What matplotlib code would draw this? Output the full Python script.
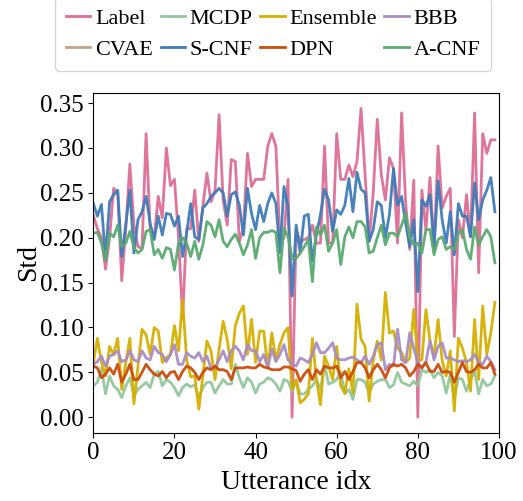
import matplotlib
matplotlib.use("Agg")
import matplotlib.pyplot as plt
from matplotlib.lines import Line2D
import numpy as np

plt.rcParams['font.family'] = ['Liberation Serif', 'DejaVu Serif']

idx = list(range(100))

label_std = [0.225, 0.21, 0.20, 0.165, 0.20, 0.255, 0.25, 0.152, 0.21, 0.282,
             0.215, 0.19, 0.188, 0.316, 0.21, 0.20, 0.246, 0.222, 0.30, 0.258,
             0.265, 0.20, 0.11, 0.21, 0.21, 0.253, 0.196, 0.235, 0.272, 0.240,
             0.253, 0.337, 0.242, 0.214, 0.287, 0.285, 0.196, 0.21, 0.294, 0.257,
             0.265, 0.265, 0.265, 0.302, 0.316, 0.302, 0.196, 0.20, 0.265, 0.0,
             0.209, 0.196, 0.198, 0.20, 0.214, 0.194, 0.194, 0.302, 0.194, 0.194,
             0.316, 0.265, 0.265, 0.281, 0.268, 0.285, 0.344, 0.27, 0.196, 0.25,
             0.332, 0.27, 0.242, 0.289, 0.277, 0.194, 0.339, 0.239, 0.187, 0.264,
             0.0, 0.253, 0.209, 0.267, 0.187, 0.302, 0.233, 0.246, 0.255, 0.09,
             0.22, 0.20, 0.248, 0.201, 0.339, 0.161, 0.316, 0.294, 0.309, 0.309]

mcdp_std = [0.035, 0.039, 0.055, 0.026, 0.046, 0.035, 0.031, 0.022, 0.035, 0.044,
            0.024, 0.031, 0.035, 0.039, 0.033, 0.048, 0.051, 0.035, 0.042, 0.039,
            0.033, 0.024, 0.033, 0.037, 0.034, 0.036, 0.022, 0.033, 0.039, 0.039,
            0.027, 0.035, 0.042, 0.037, 0.037, 0.059, 0.044, 0.033, 0.044, 0.039,
            0.027, 0.037, 0.039, 0.044, 0.042, 0.037, 0.029, 0.042, 0.040, 0.029,
            0.040, 0.026, 0.026, 0.031, 0.035, 0.042, 0.031, 0.059, 0.037, 0.039,
            0.042, 0.051, 0.026, 0.031, 0.020, 0.042, 0.042, 0.039, 0.027, 0.037,
            0.040, 0.042, 0.042, 0.033, 0.036, 0.050, 0.039, 0.037, 0.035, 0.040,
            0.035, 0.053, 0.050, 0.053, 0.044, 0.050, 0.046, 0.027, 0.048, 0.020,
            0.044, 0.042, 0.029, 0.042, 0.051, 0.026, 0.042, 0.035, 0.037, 0.046]

ensemble_std = [0.061, 0.088, 0.061, 0.046, 0.079, 0.070, 0.088, 0.031, 0.061, 0.088,
                0.015, 0.057, 0.098, 0.092, 0.070, 0.100, 0.096, 0.061, 0.066, 0.070,
                0.102, 0.074, 0.131, 0.064, 0.045, 0.046, 0.009, 0.046, 0.085, 0.074,
                0.042, 0.076, 0.107, 0.087, 0.054, 0.102, 0.116, 0.124, 0.070, 0.109,
                0.061, 0.096, 0.096, 0.055, 0.094, 0.064, 0.081, 0.094, 0.100, 0.031,
                0.042, 0.016, 0.020, 0.026, 0.088, 0.042, 0.014, 0.068, 0.057, 0.042,
                0.079, 0.035, 0.027, 0.054, 0.027, 0.126, 0.087, 0.079, 0.018, 0.063,
                0.085, 0.064, 0.139, 0.094, 0.096, 0.077, 0.072, 0.061, 0.066, 0.120,
                0.064, 0.064, 0.120, 0.085, 0.068, 0.109, 0.063, 0.046, 0.074, 0.007,
                0.088, 0.077, 0.061, 0.029, 0.109, 0.042, 0.124, 0.070, 0.094, 0.128]

bbb_std = [0.059, 0.062, 0.068, 0.057, 0.068, 0.070, 0.074, 0.062, 0.064, 0.074,
           0.064, 0.062, 0.074, 0.066, 0.064, 0.079, 0.072, 0.070, 0.062, 0.070,
           0.081, 0.059, 0.059, 0.072, 0.068, 0.066, 0.072, 0.062, 0.068, 0.055,
           0.055, 0.064, 0.074, 0.062, 0.074, 0.079, 0.074, 0.064, 0.081, 0.074,
           0.074, 0.062, 0.070, 0.055, 0.076, 0.062, 0.070, 0.081, 0.064, 0.059,
           0.057, 0.066, 0.064, 0.061, 0.070, 0.083, 0.072, 0.072, 0.077, 0.083,
           0.066, 0.064, 0.064, 0.066, 0.067, 0.064, 0.061, 0.068, 0.059, 0.068,
           0.081, 0.083, 0.053, 0.059, 0.057, 0.098, 0.064, 0.061, 0.094, 0.077,
           0.061, 0.055, 0.062, 0.085, 0.064, 0.079, 0.083, 0.066, 0.066, 0.064,
           0.062, 0.063, 0.062, 0.064, 0.070, 0.061, 0.059, 0.068, 0.062, 0.053]

scnf_std = [0.238, 0.224, 0.237, 0.177, 0.240, 0.248, 0.253, 0.179, 0.215, 0.253,
            0.183, 0.220, 0.229, 0.246, 0.216, 0.198, 0.224, 0.203, 0.227, 0.226,
            0.213, 0.224, 0.179, 0.205, 0.238, 0.201, 0.198, 0.233, 0.238, 0.246,
            0.250, 0.255, 0.250, 0.224, 0.248, 0.251, 0.236, 0.203, 0.255, 0.227,
            0.209, 0.236, 0.218, 0.238, 0.250, 0.238, 0.183, 0.257, 0.234, 0.135,
            0.214, 0.183, 0.224, 0.226, 0.174, 0.203, 0.226, 0.254, 0.242, 0.207,
            0.231, 0.226, 0.236, 0.266, 0.229, 0.273, 0.254, 0.250, 0.196, 0.209,
            0.240, 0.236, 0.200, 0.226, 0.277, 0.236, 0.246, 0.216, 0.190, 0.220,
            0.140, 0.242, 0.235, 0.248, 0.190, 0.263, 0.220, 0.194, 0.229, 0.181,
            0.238, 0.224, 0.224, 0.201, 0.261, 0.220, 0.242, 0.253, 0.267, 0.229]

dpn_std = [0.057, 0.055, 0.044, 0.048, 0.055, 0.048, 0.059, 0.039, 0.048, 0.059,
           0.042, 0.042, 0.050, 0.059, 0.053, 0.048, 0.046, 0.051, 0.044, 0.050,
           0.051, 0.042, 0.051, 0.057, 0.055, 0.050, 0.042, 0.050, 0.055, 0.053,
           0.057, 0.053, 0.053, 0.051, 0.042, 0.055, 0.055, 0.055, 0.056, 0.055,
           0.055, 0.059, 0.056, 0.055, 0.053, 0.053, 0.053, 0.056, 0.056, 0.054,
           0.052, 0.040, 0.048, 0.053, 0.042, 0.053, 0.048, 0.057, 0.055, 0.055,
           0.057, 0.044, 0.051, 0.042, 0.051, 0.061, 0.061, 0.055, 0.044, 0.053,
           0.059, 0.053, 0.044, 0.055, 0.059, 0.057, 0.059, 0.055, 0.046, 0.051,
           0.059, 0.055, 0.061, 0.051, 0.051, 0.059, 0.050, 0.051, 0.050, 0.039,
           0.050, 0.061, 0.051, 0.050, 0.053, 0.059, 0.055, 0.055, 0.061, 0.048]

acnf_std = [0.205, 0.206, 0.194, 0.174, 0.205, 0.201, 0.214, 0.190, 0.194, 0.207,
            0.189, 0.183, 0.187, 0.207, 0.209, 0.181, 0.187, 0.177, 0.189, 0.187,
            0.164, 0.194, 0.200, 0.194, 0.179, 0.196, 0.176, 0.192, 0.218, 0.214,
            0.201, 0.220, 0.196, 0.190, 0.198, 0.204, 0.194, 0.181, 0.192, 0.209,
            0.177, 0.200, 0.206, 0.206, 0.208, 0.206, 0.161, 0.210, 0.201, 0.177,
            0.177, 0.183, 0.190, 0.198, 0.151, 0.212, 0.203, 0.214, 0.185, 0.194,
            0.209, 0.170, 0.201, 0.212, 0.200, 0.218, 0.218, 0.212, 0.183, 0.185,
            0.200, 0.214, 0.192, 0.205, 0.205, 0.201, 0.214, 0.227, 0.201, 0.192,
            0.194, 0.183, 0.209, 0.209, 0.181, 0.198, 0.201, 0.187, 0.190, 0.187,
            0.205, 0.209, 0.187, 0.176, 0.212, 0.192, 0.201, 0.209, 0.201, 0.172]

names = ['Label', 'MCDP', 'Ensemble', 'BBB', 'CVAE', 'S-CNF', 'DPN', 'A-CNF']
colors = ['#dd6e96', '#92c79b', '#d4b000', '#a98bc4', '#c4a484', '#3e7cb8', '#cc4c0a', '#5aaa70']
series = {'Label': label_std, 'MCDP': mcdp_std, 'Ensemble': ensemble_std,
          'BBB': bbb_std, 'CVAE': None, 'S-CNF': scnf_std, 'DPN': dpn_std,
          'A-CNF': acnf_std}

fig = plt.figure(figsize=(5.23, 5.01), dpi=100)
ax = fig.add_axes([0.1785, 0.1363, 0.7755, 0.6781])

handles = {}
for name, col in zip(names, colors):
    vals = series[name]
    if vals is not None:
        ax.plot(idx, vals, color=col, lw=2.0, alpha=0.95)
    handles[name] = Line2D([0], [0], color=col, lw=2.0)

ax.set_xlim(0, 100)
ax.set_yticks([0.0, 0.05, 0.10, 0.15, 0.20, 0.25, 0.30, 0.35])
ax.set_yticklabels(['0.00', '0.05', '0.10', '0.15', '0.20', '0.25', '0.30', '0.35'])
ax.set_xticks([0, 20, 40, 60, 80, 100])
ax.tick_params(labelsize=18)
ax.set_xlabel('Utterance idx', fontsize=20)
ax.set_ylabel('Std', fontsize=20, labelpad=-1)

# row-wise legend order with matplotlib's column-major filling
order = [names[0], names[4], names[1], names[5], names[2], names[6], names[3], names[7]]
ax.legend([handles[n] for n in order], order, ncol=4, loc='lower center',
          bbox_to_anchor=(0.443, 1.033),
          fontsize=16, handlelength=1.1, handletextpad=0.2, columnspacing=0.35,
          borderpad=0.5, labelspacing=0.45)

fig.savefig('out.png', dpi=100)
